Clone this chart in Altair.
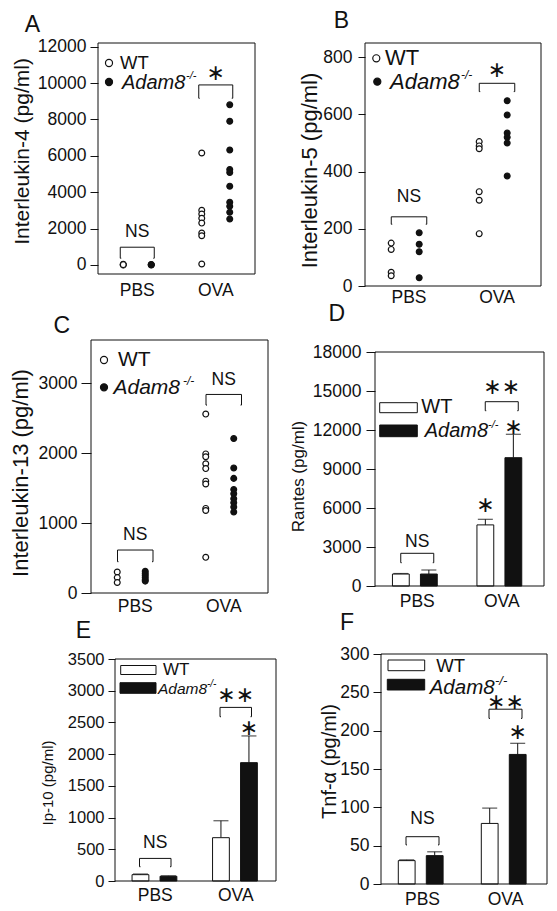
import altair as alt
import pandas as pd

FONT = "Liberation Sans"
STAR_FONT = "DejaVu Sans"
INK = "#111111"

GROUPS = ["PBS", "OVA"]
GENOS = ["WT", "KO"]

# ---------------- data ----------------
# A: Interleukin-4 (pg/ml), one value per mouse
il4_pbs_wt = [30, 0, 15]
il4_pbs_ko = [20, 0, 10]
il4_ova_wt = [6150, 3000, 2800, 2560, 2300, 1750, 1600, 50]
il4_ova_ko = [8800, 7900, 6320, 5250, 5080, 4330, 3450, 3230, 2900, 2520]

# B: Interleukin-5 (pg/ml)
il5_pbs_wt = [150, 128, 48, 36]
il5_pbs_ko = [186, 146, 120, 29]
il5_ova_wt = [505, 490, 480, 330, 300, 183]
il5_ova_ko = [648, 598, 535, 520, 500, 385]

# C: Interleukin-13 (pg/ml)
il13_pbs_wt = [300, 220, 150]
il13_pbs_ko = [310, 280, 250, 220, 190, 170]
il13_ova_wt = [2560, 1990, 1950, 1850, 1780, 1600, 1560, 1210, 1180, 510]
il13_ova_ko = [2210, 1790, 1640, 1480, 1420, 1350, 1290, 1230, 1160]

# D-F: mean and SEM, order PBS, OVA
rantes_wt_mean = [920, 4700]
rantes_wt_sem = [40, 430]
rantes_ko_mean = [920, 9870]
rantes_ko_sem = [310, 1800]

ip10_wt_mean = [100, 683]
ip10_wt_sem = [10, 267]
ip10_ko_mean = [75, 1866]
ip10_ko_sem = [6, 421]

tnf_wt_mean = [30.5, 79]
tnf_wt_sem = [1, 20]
tnf_ko_mean = [37, 169]
tnf_ko_sem = [5, 14.5]

# significance brackets: group, lower end of legs, top of bracket
brackets_A = [("PBS", 368, 973), ("OVA", 9163, 9895)]
brackets_B = [("PBS", 216, 242), ("OVA", 680, 709)]
brackets_C = [("PBS", 448, 615), ("OVA", 2689, 2841)]
brackets_D = [("PBS", 1792, 2515), ("OVA", 13484, 14177)]
brackets_E = [("PBS", 225, 356), ("OVA", 2590, 2737)]
brackets_F = [("PBS", 51, 61.7), ("OVA", 216, 228)]

# labels centred on a group: group, value, text
labels_A = [("PBS", 1830, "NS"), ("OVA", 10540, "∗")]
labels_B = [("PBS", 312, "NS"), ("OVA", 756, "∗")]
labels_C = [("PBS", 829, "NS"), ("OVA", 3046, "NS")]
labels_D = [("PBS", 3408, "NS"), ("OVA", 15330, "∗∗")]
labels_E = [("PBS", 595, "NS"), ("OVA", 2933, "∗∗")]
labels_F = [("PBS", 84.4, "NS"), ("OVA", 237.7, "∗∗")]

# labels over a single bar: group, genotype, value, text
bar_labels_D = [("OVA", "WT", 6230, "∗"), ("OVA", "KO", 12253, "∗")]
bar_labels_E = [("OVA", "KO", 2408, "∗")]
bar_labels_F = [("OVA", "KO", 198.6, "∗")]

ONE = pd.DataFrame({"k": [0]})


# ---------------- helpers ----------------
def txt(x, y, s, size, italic=False, align="left", font=FONT):
    return alt.Chart(pd.DataFrame({"t": [s]})).mark_text(
        font=font, fontSize=size, fontStyle="italic" if italic else "normal",
        align=align, baseline="middle", color=INK
    ).encode(x=alt.value(x), y=alt.value(y), text="t:N")


def spacer(x, y):
    return alt.Chart(ONE).mark_rule(strokeOpacity=0).encode(
        x=alt.value(x), x2=alt.value(x + 1), y=alt.value(y))


def dot(x, y, fill, size=50):
    return alt.Chart(ONE).mark_point(
        shape="circle", filled=True, fill=fill, stroke=INK, strokeWidth=1.2,
        size=size, opacity=1
    ).encode(x=alt.value(x), y=alt.value(y))


def box(x1, x2, y1, y2, fill):
    return alt.Chart(ONE).mark_rect(fill=fill, stroke=INK, strokeWidth=1).encode(
        x=alt.value(x1), x2=alt.value(x2), y=alt.value(y1), y2=alt.value(y2))


def frame(x1, x2, y1, y2):
    return alt.Chart(ONE).mark_rect(filled=False, stroke=INK, strokeWidth=1).encode(
        x=alt.value(x1), x2=alt.value(x2), y=alt.value(y1), y2=alt.value(y2))


def off_scale(width, step, bar=None):
    band = 0.4 * width
    inner = 0.4 if bar is None else 1 - bar / step
    outer = (band / step - 2 + inner) / 2
    return alt.Scale(domain=GENOS, paddingInner=inner, paddingOuter=outer)


def y_axis(values, title, tick, lpad, tsize, tpad, ty, offset=0, lsize=17.5):
    return alt.Axis(values=values, title=title, format="d", tickSize=tick,
                    labelPadding=lpad, labelFontSize=lsize, titleFontSize=tsize,
                    titlePadding=tpad, titleY=ty, offset=offset, domain=False,
                    grid=False, ticks=True, tickColor=INK, tickWidth=1,
                    labelColor=INK, titleColor=INK, labelFont=FONT, titleFont=FONT,
                    titleFontWeight="normal", labelOverlap=False)


def x_axis(pad):
    return alt.Axis(title=None, ticks=False, tickSize=0, domain=False, grid=False,
                    labelAngle=0, labelPadding=pad, labelFontSize=17.5,
                    labelFont=FONT, labelColor=INK)


class Geo:
    """view size, frame inside the view, and outer extents for layout"""
    def __init__(self, vw, vh, fx, fy, left, top, bottom):
        self.vw, self.vh, self.fx, self.fy = vw, vh, fx, fy
        self.left, self.top, self.bottom = left, top, bottom

    def xs(self):
        return alt.Scale(domain=GROUPS, range=[self.fx[0], self.fx[1]],
                         paddingInner=0.2, paddingOuter=0.1)

    def ys(self, dom):
        return alt.Scale(domain=dom, range=[self.fy[1], self.fy[0]], nice=False, zero=False)

    def deco(self):
        return [frame(self.fx[0], self.fx[1], self.fy[0], self.fy[1]),
                spacer(-self.left, -self.top), spacer(-self.left, self.vh + self.bottom)]


def annotations(xs, ys, xa, ya, offs, brackets, centred, over, bw):
    layers = []
    bdf = pd.DataFrame(brackets, columns=["group", "leg", "top"])
    X = alt.X("group:N", scale=xs, axis=xa)
    layers.append(alt.Chart(bdf).mark_bar(
        filled=False, color=INK, stroke=INK, strokeWidth=1, width=bw
    ).encode(x=X, y=alt.Y("leg:Q", scale=ys, axis=ya), y2="top:Q"))
    layers.append(alt.Chart(bdf).mark_tick(
        color="white", thickness=3, size=bw - 2, opacity=1
    ).encode(x=X, y=alt.Y("leg:Q", scale=ys, axis=ya)))
    cdf = pd.DataFrame(centred, columns=["group", "value", "text"])
    ns = cdf[cdf["text"] == "NS"]
    st = cdf[cdf["text"] != "NS"]
    if len(ns):
        layers.append(alt.Chart(ns).mark_text(
            font=FONT, fontSize=17.5, baseline="middle", color=INK
        ).encode(x=X, y=alt.Y("value:Q", scale=ys, axis=ya), text="text:N"))
    if len(st):
        layers.append(alt.Chart(st).mark_text(
            font=STAR_FONT, fontSize=22, baseline="middle", color=INK
        ).encode(x=X, y=alt.Y("value:Q", scale=ys, axis=ya), text="text:N"))
    if over:
        odf = pd.DataFrame(over, columns=["group", "genotype", "value", "text"])
        layers.append(alt.Chart(odf).mark_text(
            font=STAR_FONT, fontSize=22, baseline="middle", color=INK
        ).encode(x=X, xOffset=alt.XOffset("genotype:N", scale=offs),
                 y=alt.Y("value:Q", scale=ys, axis=ya), text="text:N"))
    return layers


def scatter_panel(series, geo, ydom, yaxis, xpad, step, brackets, labels, bw, extra):
    rows = []
    keys = [("PBS", "WT"), ("PBS", "KO"), ("OVA", "WT"), ("OVA", "KO")]
    for (g, geno), vals in zip(keys, series):
        rows += [{"group": g, "genotype": geno, "value": v} for v in vals]
    df = pd.DataFrame(rows)
    xs = geo.xs()
    xa = x_axis(xpad)
    ys = geo.ys(ydom)
    offs = off_scale(geo.fx[1] - geo.fx[0], step)
    pts = alt.Chart(df).mark_point(
        shape="circle", filled=True, stroke=INK, strokeWidth=1.2, size=34, opacity=1
    ).encode(
        x=alt.X("group:N", scale=xs, axis=xa),
        xOffset=alt.XOffset("genotype:N", scale=offs),
        y=alt.Y("value:Q", scale=ys, axis=yaxis),
        fill=alt.Fill("genotype:N", scale=alt.Scale(domain=GENOS, range=["white", INK]),
                      legend=None),
    )
    layers = ([pts] + annotations(xs, ys, xa, yaxis, offs, brackets, labels, None, bw)
              + extra + geo.deco())
    return alt.layer(*layers).properties(width=geo.vw, height=geo.vh)


def bar_panel(wt_mean, wt_sem, ko_mean, ko_sem, geo, ydom, yaxis, xpad, step, bar,
              brackets, labels, over, bw, extra):
    rows = []
    for geno, means, sems in [("WT", wt_mean, wt_sem), ("KO", ko_mean, ko_sem)]:
        rows += [{"group": g, "genotype": geno, "mean": m, "sem": s}
                 for g, m, s in zip(GROUPS, means, sems)]
    df = pd.DataFrame(rows)
    xs = geo.xs()
    xa = x_axis(xpad)
    ys = geo.ys(ydom)
    offs = off_scale(geo.fx[1] - geo.fx[0], step, bar)
    base = alt.Chart(df).encode(
        x=alt.X("group:N", scale=xs, axis=xa),
        xOffset=alt.XOffset("genotype:N", scale=offs),
    )
    bars = base.mark_bar(stroke=INK, strokeWidth=1).encode(
        y=alt.Y("mean:Q", scale=ys, axis=yaxis),
        fill=alt.Fill("genotype:N", scale=alt.Scale(domain=GENOS, range=["white", INK]),
                      legend=None),
    )
    err = base.transform_calculate(top="datum.mean + datum.sem").mark_rule(
        color=INK, strokeWidth=1
    ).encode(y=alt.Y("mean:Q", scale=ys, axis=yaxis), y2="top:Q")
    cap = base.transform_calculate(top="datum.mean + datum.sem").mark_tick(
        color=INK, thickness=1.2, size=15
    ).encode(y=alt.Y("top:Q", scale=ys, axis=yaxis))
    layers = ([err, cap, bars]
              + annotations(xs, ys, xa, yaxis, offs, brackets, labels, over, bw)
              + extra + geo.deco())
    return alt.layer(*layers).properties(width=geo.vw, height=geo.vh)


# ---------------- panels ----------------
gA = Geo(164, 231, (7, 164), (0, 231), 82, 35, 20)
pA = scatter_panel(
    [il4_pbs_wt, il4_pbs_ko, il4_ova_wt, il4_ova_ko], gA, [-500, 12200],
    y_axis(list(range(0, 12001, 2000)), "Interleukin-4 (pg/ml)", 8, 4, 21, 5, 108, offset=-7),
    7, 28, brackets_A, labels_A, 34,
    [dot(18, 20, "white"), txt(29, 19.5, "WT", 18.5),
     dot(18, 39, INK), txt(31, 39.8, "Adam8", 20, italic=True), txt(95, 32.5, "-/-", 11, italic=True),
     txt(-58.5, -18, "A", 23, align="center")],
)

gB = Geo(176, 243, (0, 176), (0, 243), 108.5, 35, 26)
pB = scatter_panel(
    [il5_pbs_wt, il5_pbs_ko, il5_ova_wt, il5_ova_ko], gB, [0, 850],
    y_axis(list(range(0, 801, 200)), "Interleukin-5 (pg/ml)", 7, 6, 22, 1, 127),
    2, 31.7, brackets_B, labels_B, 35.5,
    [dot(11.3, 15.3, "white"), txt(20, 15, "WT", 22),
     dot(12.3, 38.7, INK), txt(25, 39, "Adam8", 22, italic=True), txt(96, 32, "-/-", 12, italic=True),
     txt(-23.7, -22, "B", 23, align="center")],
)

gC = Geo(177, 253, (0, 177), (0, 253), 82, 48, 26)
pC = scatter_panel(
    [il13_pbs_wt, il13_pbs_ko, il13_ova_wt, il13_ova_ko], gC, [0, 3620],
    y_axis([0, 1000, 2000, 3000], "Interleukin-13 (pg/ml)", 10, 4, 22, 5.5, 132.5),
    4, 29.7, brackets_C, labels_C, 35.5,
    [dot(13, 20, "white"), txt(27, 20, "WT", 21),
     dot(13, 47.3, INK), txt(22.5, 47.5, "Adam8", 21, italic=True), txt(92, 41, "-/-", 12, italic=True),
     txt(-29.3, -14.3, "C", 23, align="center")],
)

gD = Geo(169, 246, (0, 169), (12, 246), 105.5, 48, 26)
pD = bar_panel(
    rantes_wt_mean, rantes_wt_sem, rantes_ko_mean, rantes_ko_sem, gD, [0, 18000],
    y_axis(list(range(0, 18001, 3000)), "Rantes (pg/ml)", 9, 5, 17, 4.5, 136),
    6, 27.7, 16.7, brackets_D, labels_D, bar_labels_D, 33,
    [box(4.7, 42.3, 62.7, 72.7, "white"), txt(46.3, 67.3, "WT", 20),
     box(4.7, 42.3, 85, 96.7, INK), txt(49.7, 90.7, "Adam8", 20, italic=True),
     txt(113, 85, "-/-", 11, italic=True),
     txt(-38.3, -26, "D", 23, align="center")],
)

gE = Geo(185, 227, (24, 185), (5, 227), 82, 55, 18)
pE = bar_panel(
    ip10_wt_mean, ip10_wt_sem, ip10_ko_mean, ip10_ko_sem, gE, [0, 3500],
    y_axis(list(range(0, 3501, 500)), "Ip-10 (pg/ml)", 7, 4, 15, 11.5, 128.5,
           offset=-24, lsize=16.5),
    5, 27.5, 16.3, brackets_E, labels_E, bar_labels_E, 31.5,
    [box(29.7, 65, 11.5, 20.5, "white"), txt(72, 16, "WT", 17),
     box(29, 65, 28.7, 39.3, INK), txt(67, 35.3, "Adam8", 15.5, italic=True),
     txt(116, 30, "-/-", 10, italic=True),
     txt(-7.7, -23.3, "E", 23, align="center")],
)

gF = Geo(166, 230, (0, 166), (0, 230), 103.5, 55, 18)
pF = bar_panel(
    tnf_wt_mean, tnf_wt_sem, tnf_ko_mean, tnf_ko_sem, gF, [0, 300],
    y_axis(list(range(0, 301, 50)), "Tnf-α (pg/ml)", 8, 4, 20, 0.5, 107),
    6, 27.3, 17, brackets_F, labels_F, bar_labels_F, 33,
    [box(7, 43.7, 6, 16.7, "white"), txt(55.3, 12.2, "WT", 18.5),
     box(6.3, 43.7, 25.3, 36, INK), txt(48.7, 33.5, "Adam8", 20.5, italic=True),
     txt(114, 27, "-/-", 13, italic=True),
     txt(-34, -31.5, "F", 23, align="center")],
)

row1 = alt.hconcat(pA, pB, spacing=0)
row2 = alt.hconcat(pC, pD, spacing=0)
row3 = alt.hconcat(pE, pF, spacing=0)

chart = alt.vconcat(row1, row2, row3, spacing=-20).properties(
    padding={"left": 1, "top": 0, "right": 0, "bottom": 0},
    background="white",
).configure_view(strokeWidth=0)

chart.save("out.html", embed_options={"renderer": "svg", "actions": False})
